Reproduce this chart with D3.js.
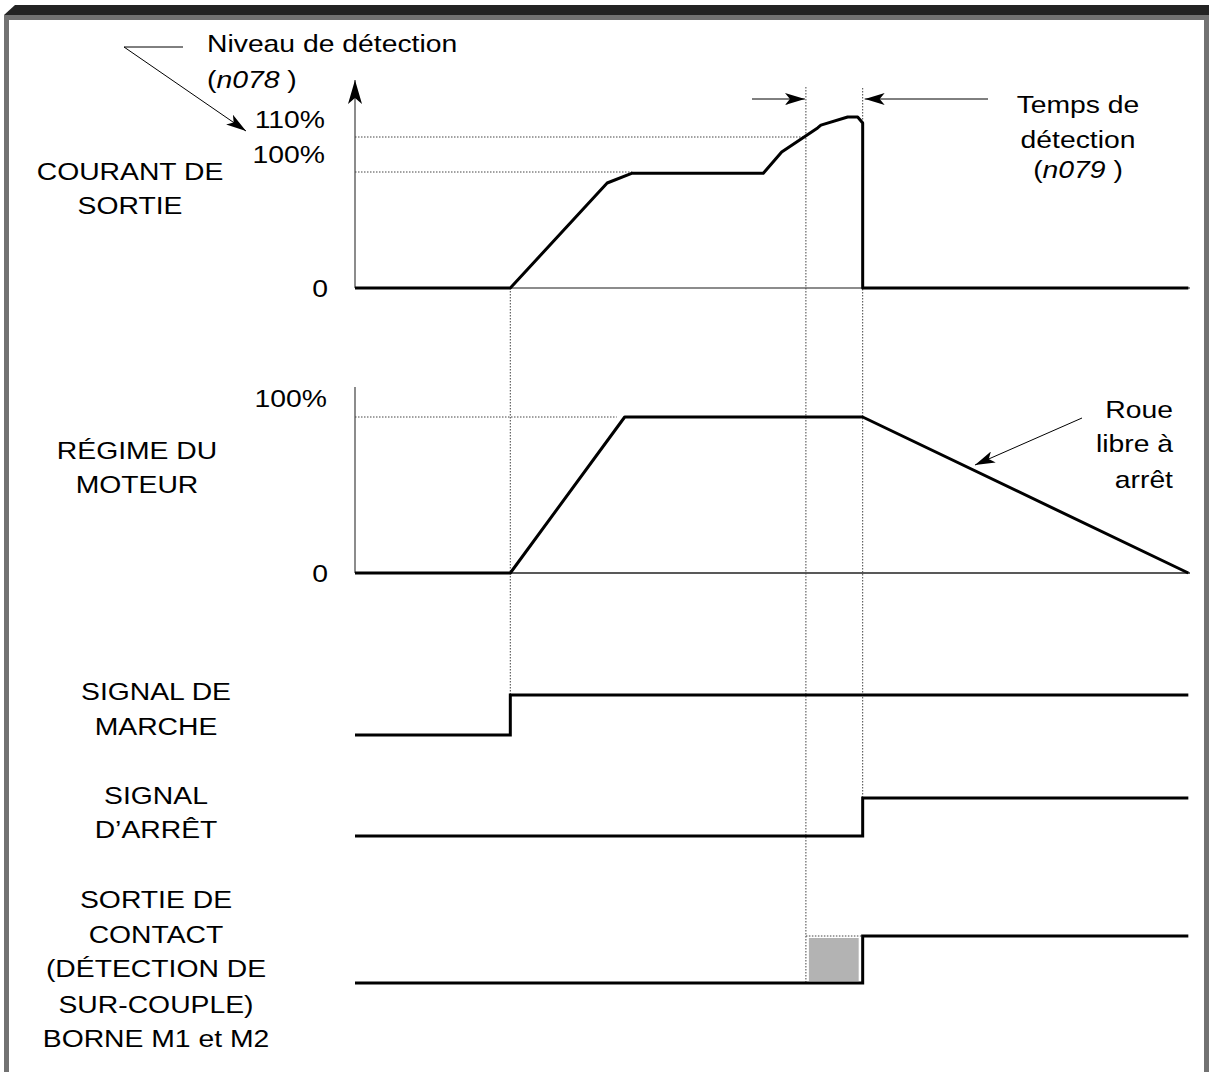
<!DOCTYPE html>
<html>
<head>
<meta charset="utf-8">
<script src="https://cdn.jsdelivr.net/npm/d3@7/dist/d3.min.js"></script>
<style>
  html, body { margin: 0; padding: 0; background: #fff; }
  svg { display: block; }
  text { font-family: "Liberation Sans", Arial, Helvetica, sans-serif; font-size: 24px; fill: #000; }
</style>
</head>
<body>
<script>
// ---- Timing data (time in arbitrary units, 0..100) ----
const currentTime = [0, 18.6, 30.2, 33.2, 48.9, 51.1, 55.4, 55.8, 59.0, 60.2, 60.8, 60.8, 99.8];
const currentPct  = [0, 0, 90.5, 99, 99, 105.7, 112.6, 113.4, 115.7, 115.7, 114, 0, 0];

const speedTime = [0, 18.6, 32.3, 60.8, 99.8];
const speedPct  = [0, 0, 100, 100, 0];

// digital signals: [time, level] steps
const runTime     = [0, 18.6, 99.8];
const runLevel    = [0, 1, 1];
const stopTime    = [0, 60.8, 99.8];
const stopLevel   = [0, 1, 1];
const contactTime = [0, 60.8, 99.8];
const contactLevel = [0, 1, 1];

// key instants
const tRun = 18.6;        // run command
const tDetect = 54.0;     // current crosses detection level
const tStop = 60.8;       // overtorque output / stop
const tCurrentFlat = 33.2;
const tSpeedFlat = 32.3;

const currentTicks = [110, 100, 0];
const currentTickLabels = ["110%", "100%", "0"];
const speedTicks = [100, 0];
const speedTickLabels = ["100%", "0"];

const W = 1209, H = 1072;
const svg = d3.select("body").append("svg").attr("width", W).attr("height", H);

// ---- frame ----
const frameDark = "#232323", frameGrey = "#727272";
svg.append("polygon").attr("points", "15,5 1209,5 1209,15 4,15").attr("fill", frameDark);
svg.append("rect").attr("x", 4).attr("y", 15).attr("width", W - 4).attr("height", 5).attr("fill", frameGrey);
svg.append("rect").attr("x", 4).attr("y", 15).attr("width", 5).attr("height", H - 15).attr("fill", frameGrey);
svg.append("rect").attr("x", 1204).attr("y", 15).attr("width", 5).attr("height", H - 15).attr("fill", frameGrey);

// ---- markers ----
const defs = svg.append("defs");
defs.append("marker").attr("id", "head").attr("markerUnits", "userSpaceOnUse")
  .attr("viewBox", "0 0 20 12").attr("refX", 20).attr("refY", 6)
  .attr("markerWidth", 20).attr("markerHeight", 12).attr("orient", "auto")
  .append("path").attr("d", "M0,0 L20,6 L0,12 L5,6 Z").attr("fill", "#000");
defs.append("marker").attr("id", "axisHead").attr("markerUnits", "userSpaceOnUse")
  .attr("viewBox", "0 0 24 14").attr("refX", 24).attr("refY", 7)
  .attr("markerWidth", 24).attr("markerHeight", 14).attr("orient", "auto")
  .append("path").attr("d", "M0,0 L24,7 L0,14 L6,7 Z").attr("fill", "#000");

// ---- scales ----
const x = d3.scaleLinear().domain([0, 100]).range([355, 1190]);
const yCur = d3.scaleLinear().domain([0, 100, 110]).range([288, 172, 137]);
const ySpd = d3.scaleLinear().domain([0, 100]).range([573, 417]);
const yRun = d3.scaleLinear().domain([0, 1]).range([735, 695]);
const yStop = d3.scaleLinear().domain([0, 1]).range([836, 798]);
const yCon = d3.scaleLinear().domain([0, 1]).range([983, 936]);

const SX = 1.18; // horizontal stretch of the lettering
function label(px, py, str, anchor) {
  const t = svg.append("text")
    .attr("transform", `translate(${px},${py}) scale(${SX},1)`)
    .attr("text-anchor", anchor || "middle");
  if (Array.isArray(str)) {
    str.forEach(p => t.append("tspan").attr("font-style", p.i ? "italic" : null).text(p.s));
  } else t.text(str);
  return t;
}
function dotted(x1, y1, x2, y2) {
  svg.append("line").attr("x1", x1).attr("y1", y1).attr("x2", x2).attr("y2", y2)
    .attr("stroke", "#444").attr("stroke-width", 1).attr("stroke-dasharray", "1.5,1.5");
}
function thin(x1, y1, x2, y2, color, w) {
  svg.append("line").attr("x1", x1).attr("y1", y1).attr("x2", x2).attr("y2", y2)
    .attr("stroke", color || "#555").attr("stroke-width", w || 1.5);
}

// ---- output current panel ----
const curAxis = d3.axisLeft(yCur).tickValues([]).tickSize(0).tickSizeOuter(0);
const gCur = svg.append("g").attr("transform", `translate(${x(0)},0)`).call(curAxis);
gCur.select(".domain").remove();
svg.append("line").attr("x1", x(0)).attr("x2", x(0)).attr("y1", yCur(0)).attr("y2", 80)
  .attr("stroke", "#666").attr("stroke-width", 1.5).attr("marker-end", "url(#axisHead)");
thin(x(0), yCur(0), x(100), yCur(0), "#666", 1.5);
dotted(x(0), yCur(110), x(tDetect), yCur(110));
dotted(x(0), yCur(100), x(tCurrentFlat), yCur(100));
currentTicks.forEach((v, i) => {
  const off = v === 0 ? 9 : -9;
  label(x(0) - 30 + (v === 0 ? 3 : 0), yCur(v) + off, currentTickLabels[i], "end");
});

// ---- motor speed panel ----
svg.append("line").attr("x1", x(0)).attr("x2", x(0)).attr("y1", ySpd(0)).attr("y2", 387)
  .attr("stroke", "#666").attr("stroke-width", 1.5);
thin(x(0), ySpd(0), x(100), ySpd(0), "#222", 1.5);
dotted(x(0), ySpd(100), x(tSpeedFlat) - 8, ySpd(100));
speedTicks.forEach((v, i) => {
  const off = v === 0 ? 9 : -10;
  label(x(0) - 28 + (v === 0 ? 1 : 0), ySpd(v) + off, speedTickLabels[i], "end");
});

// ---- vertical timing guides ----
dotted(x(tRun), yCur(0), x(tRun), yRun(1));
dotted(x(tDetect), 87, x(tDetect), yCon(0));
dotted(x(tStop), 88, x(tStop), yStop(1));
dotted(x(tDetect), yCon(1), x(tStop), yCon(1));

// ---- contact output shaded interval ----
svg.append("rect")
  .attr("x", x(tDetect) + 3).attr("y", yCon(1) + 2)
  .attr("width", x(tStop) - x(tDetect) - 7).attr("height", yCon(0) - yCon(1) - 4)
  .attr("fill", "#b3b3b3");

// ---- waveforms ----
const lineCur = d3.line().x(i => x(currentTime[i])).y(i => yCur(currentPct[i]));
svg.append("path").attr("d", lineCur(d3.range(currentTime.length)))
  .attr("fill", "none").attr("stroke", "#000").attr("stroke-width", 3).attr("stroke-linejoin", "round");

const lineSpd = d3.line().x(i => x(speedTime[i])).y(i => ySpd(speedPct[i]));
svg.append("path").attr("d", lineSpd(d3.range(speedTime.length)))
  .attr("fill", "none").attr("stroke", "#000").attr("stroke-width", 3).attr("stroke-linejoin", "round");

function stepLine(times, levels, yS) {
  const l = d3.line().curve(d3.curveStepAfter).x(i => x(times[i])).y(i => yS(levels[i]));
  svg.append("path").attr("d", l(d3.range(times.length)))
    .attr("fill", "none").attr("stroke", "#000").attr("stroke-width", 3);
}
stepLine(runTime, runLevel, yRun);
stepLine(stopTime, stopLevel, yStop);
stepLine(contactTime, contactLevel, yCon);

// ---- annotations ----
// detection level
thin(124, 47, 183, 47, "#000", 1);
svg.append("line").attr("x1", 124).attr("y1", 47).attr("x2", 246).attr("y2", 131)
  .attr("stroke", "#000").attr("stroke-width", 1).attr("marker-end", "url(#head)");
label(207, 52, "Niveau de détection", "start");
label(207, 88, [{s: "("}, {s: "n078", i: true}, {s: " )"}], "start");

// detection time
svg.append("line").attr("x1", 752).attr("y1", 99).attr("x2", x(tDetect) - 1).attr("y2", 99)
  .attr("stroke", "#000").attr("stroke-width", 1).attr("marker-end", "url(#head)");
svg.append("line").attr("x1", 988).attr("y1", 99).attr("x2", x(tStop) + 2).attr("y2", 99)
  .attr("stroke", "#000").attr("stroke-width", 1).attr("marker-end", "url(#head)");
label(1078, 113, "Temps de");
label(1078, 148, "détection");
label(1078, 178, [{s: "("}, {s: "n079", i: true}, {s: " )"}]);

// coast to stop
svg.append("line").attr("x1", 1082).attr("y1", 418).attr("x2", 975).attr("y2", 465)
  .attr("stroke", "#000").attr("stroke-width", 1).attr("marker-end", "url(#head)");
label(1173, 418, "Roue", "end");
label(1173, 452, "libre à", "end");
label(1173, 488, "arrêt", "end");

// row titles
label(130, 180, "COURANT DE");
label(130, 214, "SORTIE");
label(137, 459, "RÉGIME DU");
label(137, 493, "MOTEUR");
label(156, 700, "SIGNAL DE");
label(156, 735, "MARCHE");
label(156, 804, "SIGNAL");
label(156, 838, "D’ARRÊT");
label(156, 908, "SORTIE DE");
label(156, 943, "CONTACT");
label(156, 977, "(DÉTECTION DE");
label(156, 1013, "SUR-COUPLE)");
label(156, 1047, "BORNE M1 et M2");
</script>
</body>
</html>
